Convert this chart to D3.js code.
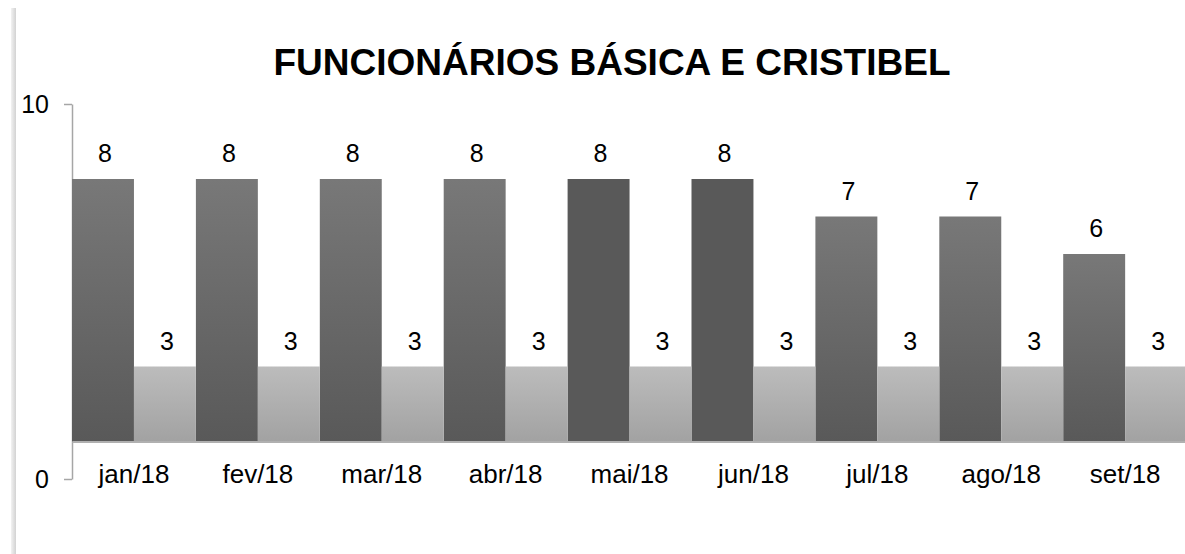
<!DOCTYPE html>
<html>
<head>
<meta charset="utf-8">
<script src="https://cdn.jsdelivr.net/npm/d3@7"></script>
<style>
  body { margin: 0; background: #fff; }
  svg { display: block; font-family: "Liberation Sans", Arial, sans-serif; }
</style>
</head>
<body>
<div id="chart"></div>
<script>
const months = ["jan/18", "fev/18", "mar/18", "abr/18", "mai/18", "jun/18", "jul/18", "ago/18", "set/18"]
const basica = [8, 8, 8, 8, 8, 8, 7, 7, 6]
const cristibel = [3, 3, 3, 3, 3, 3, 3, 3, 3]
const yTicks = [0, 10]
const title = "FUNCIONÁRIOS BÁSICA E CRISTIBEL"

const width = 1185
const height = 554
const crossAt = 1 // category axis crosses the value axis here
const solidMonths = ["mai/18", "jun/18"]

const svg = d3.select("#chart").append("svg")
  .attr("width", width)
  .attr("height", height)

const defs = svg.append("defs")
function grad(id, top, bottom, horiz) {
  const g = defs.append("linearGradient").attr("id", id)
    .attr("x1", 0).attr("y1", 0).attr("x2", horiz ? 1 : 0).attr("y2", horiz ? 0 : 1)
  g.append("stop").attr("offset", "0%").attr("stop-color", top)
  g.append("stop").attr("offset", "100%").attr("stop-color", bottom)
}
grad("darkGrad", "#787878", "#595959")
grad("lightGrad", "#bcbcbc", "#a2a2a2")
grad("edgeGrad", "#f2f2f2", "#d2d2d2", true)

// page edge shadow on the left
svg.append("rect")
  .attr("x", 11).attr("y", 8).attr("width", 5).attr("height", height - 8)
  .attr("fill", "url(#edgeGrad)")

const x = d3.scaleBand().domain(months).range([72, 72 + 9 * 123.9]).padding(0)
const xs = d3.scaleBand().domain(["basica", "cristibel"]).range([0, x.bandwidth()])
const y = d3.scaleLinear().domain([0, 10]).range([479, 104])

svg.append("text")
  .attr("x", 612).attr("y", 75)
  .attr("text-anchor", "middle")
  .style("font-size", "37px").style("font-weight", "bold")
  .text(title)

// value axis
const yAxis = svg.append("g")
  .attr("transform", "translate(72,0)")
  .call(d3.axisLeft(y).tickValues(yTicks).tickSize(8).tickSizeOuter(0).tickPadding(15))
yAxis.select(".domain").attr("stroke", "#a6a6a6").attr("stroke-width", 1.5)
yAxis.selectAll(".tick line").attr("stroke", "#a6a6a6").attr("stroke-width", 1.5)
yAxis.selectAll(".tick text")
  .attr("fill", "#000").attr("font-family", null)
  .style("font-size", "25px")

const rows = months.map((m, i) => ({ month: m, basica: basica[i], cristibel: cristibel[i] }))
const series = [
  { key: "basica", fill: d => solidMonths.includes(d.month) ? "#595959" : "url(#darkGrad)" },
  { key: "cristibel", fill: () => "url(#lightGrad)" }
]

series.forEach(s => {
  const g = svg.append("g")
  g.selectAll("rect")
    .data(rows)
    .enter()
    .append("rect")
    .attr("x", d => x(d.month) + xs(s.key))
    .attr("y", d => y(d[s.key]))
    .attr("width", xs.bandwidth())
    .attr("height", d => y(crossAt) - y(d[s.key]))
    .attr("fill", s.fill)
  g.selectAll("text")
    .data(rows)
    .enter()
    .append("text")
    .attr("x", d => x(d.month) + xs(s.key) + xs.bandwidth() / 2 + 2)
    .attr("y", d => y(d[s.key]) - 17)
    .attr("text-anchor", "middle")
    .style("font-size", "25px")
    .text(d => d[s.key])
})

// category axis
const xAxis = svg.append("g")
  .attr("transform", "translate(0," + y(crossAt) + ")")
  .call(d3.axisBottom(x).tickSize(0).tickSizeOuter(0).tickPadding(0))
xAxis.select(".domain").attr("stroke", "#b0b0b0").attr("stroke-width", 2)
xAxis.selectAll(".tick text")
  .attr("fill", "#000").attr("font-family", null)
  .attr("dy", null).attr("y", 483 - y(crossAt))
  .style("font-size", "26px")
</script>
</body>
</html>
